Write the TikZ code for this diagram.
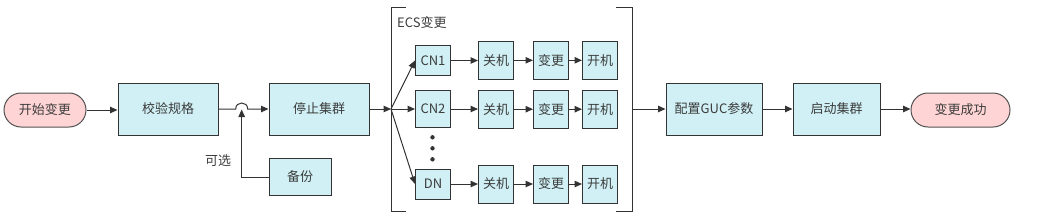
\documentclass[tikz,border=0pt]{standalone}
\usepackage{fontspec}
\setmainfont{Noto Sans CJK SC}
\usetikzlibrary{arrows.meta}
\definecolor{boxfill}{RGB}{208,240,245}
\definecolor{pinkfill}{RGB}{255,212,212}
\definecolor{linec}{RGB}{51,51,51}
\definecolor{textc}{RGB}{60,60,60}
\tikzset{
  base/.style={draw=linec, line width=1pt, text=textc, font=\fontsize{13}{15}\selectfont, inner sep=0pt, anchor=center},
  procbox/.style={base, fill=boxfill, rectangle},
  termbox/.style={base, fill=pinkfill, rectangle, rounded corners=17pt, draw=linec!85},
  conn/.style={draw=linec, line width=1pt, -{Triangle[length=7.5pt,width=6.5pt]}},
  plainline/.style={draw=linec, line width=1pt},
  lbl/.style={text=textc, font=\fontsize{13}{15}\selectfont, inner sep=0pt},
}
\begin{document}
\begin{tikzpicture}[x=1pt,y=-1pt]
\useasboundingbox (0,0) rectangle (1042,215);
% main flow
\node[termbox, minimum width=82pt, minimum height=34pt] (start) at (45,110) {开始变更};
\node[procbox, minimum width=100pt, minimum height=52pt] (check) at (168,109) {校验规格};
\node[procbox, minimum width=100pt, minimum height=52pt] (stop) at (319,109) {停止集群};
\node[procbox, minimum width=62pt, minimum height=37pt] (backup) at (300,177) {备份};
\node[lbl] (opt) at (218,161) {可选};
% ECS group
\node[lbl, anchor=west] (ecs) at (397,23) {ECS变更};
\node[procbox, minimum width=35pt, minimum height=30pt] (cn1) at (433,60.5) {CN1};
\node[procbox, minimum width=35pt, minimum height=37pt] (cn2) at (433,109) {CN2};
\node[procbox, minimum width=35pt, minimum height=30pt] (dn) at (433,184) {DN};
\foreach \r/\y in {1/60.3, 2/109.2, 3/184} {
  \node[procbox, minimum width=35pt, minimum height=38pt] (off\r) at (496,\y) {关机};
  \node[procbox, minimum width=35pt, minimum height=38pt] (chg\r) at (551,\y) {变更};
  \node[procbox, minimum width=35pt, minimum height=38pt] (on\r) at (600,\y) {开机};
}
\foreach \yy [count=\i] in {137.3,148.3,159.3} {
  \fill[linec] (432.5,\yy) circle (2.2pt);
}
% brackets
\coordinate (fan) at (391,109);
\coordinate (bout) at (632,109);
\draw[plainline] (406,7.3) -- (391,7.3) -- (391,211) -- (406,211);
\draw[plainline] (616,7.3) -- (632,7.3) -- (632,211) -- (616,211);
% after group
\node[procbox, minimum width=96pt, minimum height=52pt] (cfg) at (714,109) {配置GUC参数};
\node[procbox, minimum width=87pt, minimum height=52pt] (launch) at (836.5,109) {启动集群};
\node[termbox, minimum width=99pt, minimum height=34pt] (succ) at (960.5,110) {变更成功};
% connectors
\draw[conn] (start.east) -- (check.west |- start.east);
\coordinate (hopL) at (235.7,109);
\coordinate (hopR) at (247.7,109);
\coordinate (hopC) at (241.7,109.5);
\draw[conn] (check.east) -- (hopL) .. controls (235.7,101) and (247.7,101) .. (hopR) -- (stop.west);
\draw[conn] (backup.west) -| (hopC);
\draw[conn] (stop.east) -- (fan);
\draw[conn] (fan) -- (cn1.west);
\draw[conn] (fan) -- (cn2.west);
\draw[conn] (fan) -- (dn.west);
\draw[conn] (cn1.east) -- (off1.west |- cn1.east);
\draw[conn] (cn2.east) -- (off2.west |- cn2.east);
\draw[conn] (dn.east) -- (off3.west |- dn.east);
\foreach \r in {1,2,3} {
  \draw[conn] (off\r.east) -- (chg\r.west);
  \draw[conn] (chg\r.east) -- (on\r.west);
}
\draw[conn] (bout) -- (cfg.west);
\draw[conn] (cfg.east) -- (launch.west);
\draw[conn] (launch.east) -- (succ.west |- launch.east);
\end{tikzpicture}
\end{document}
